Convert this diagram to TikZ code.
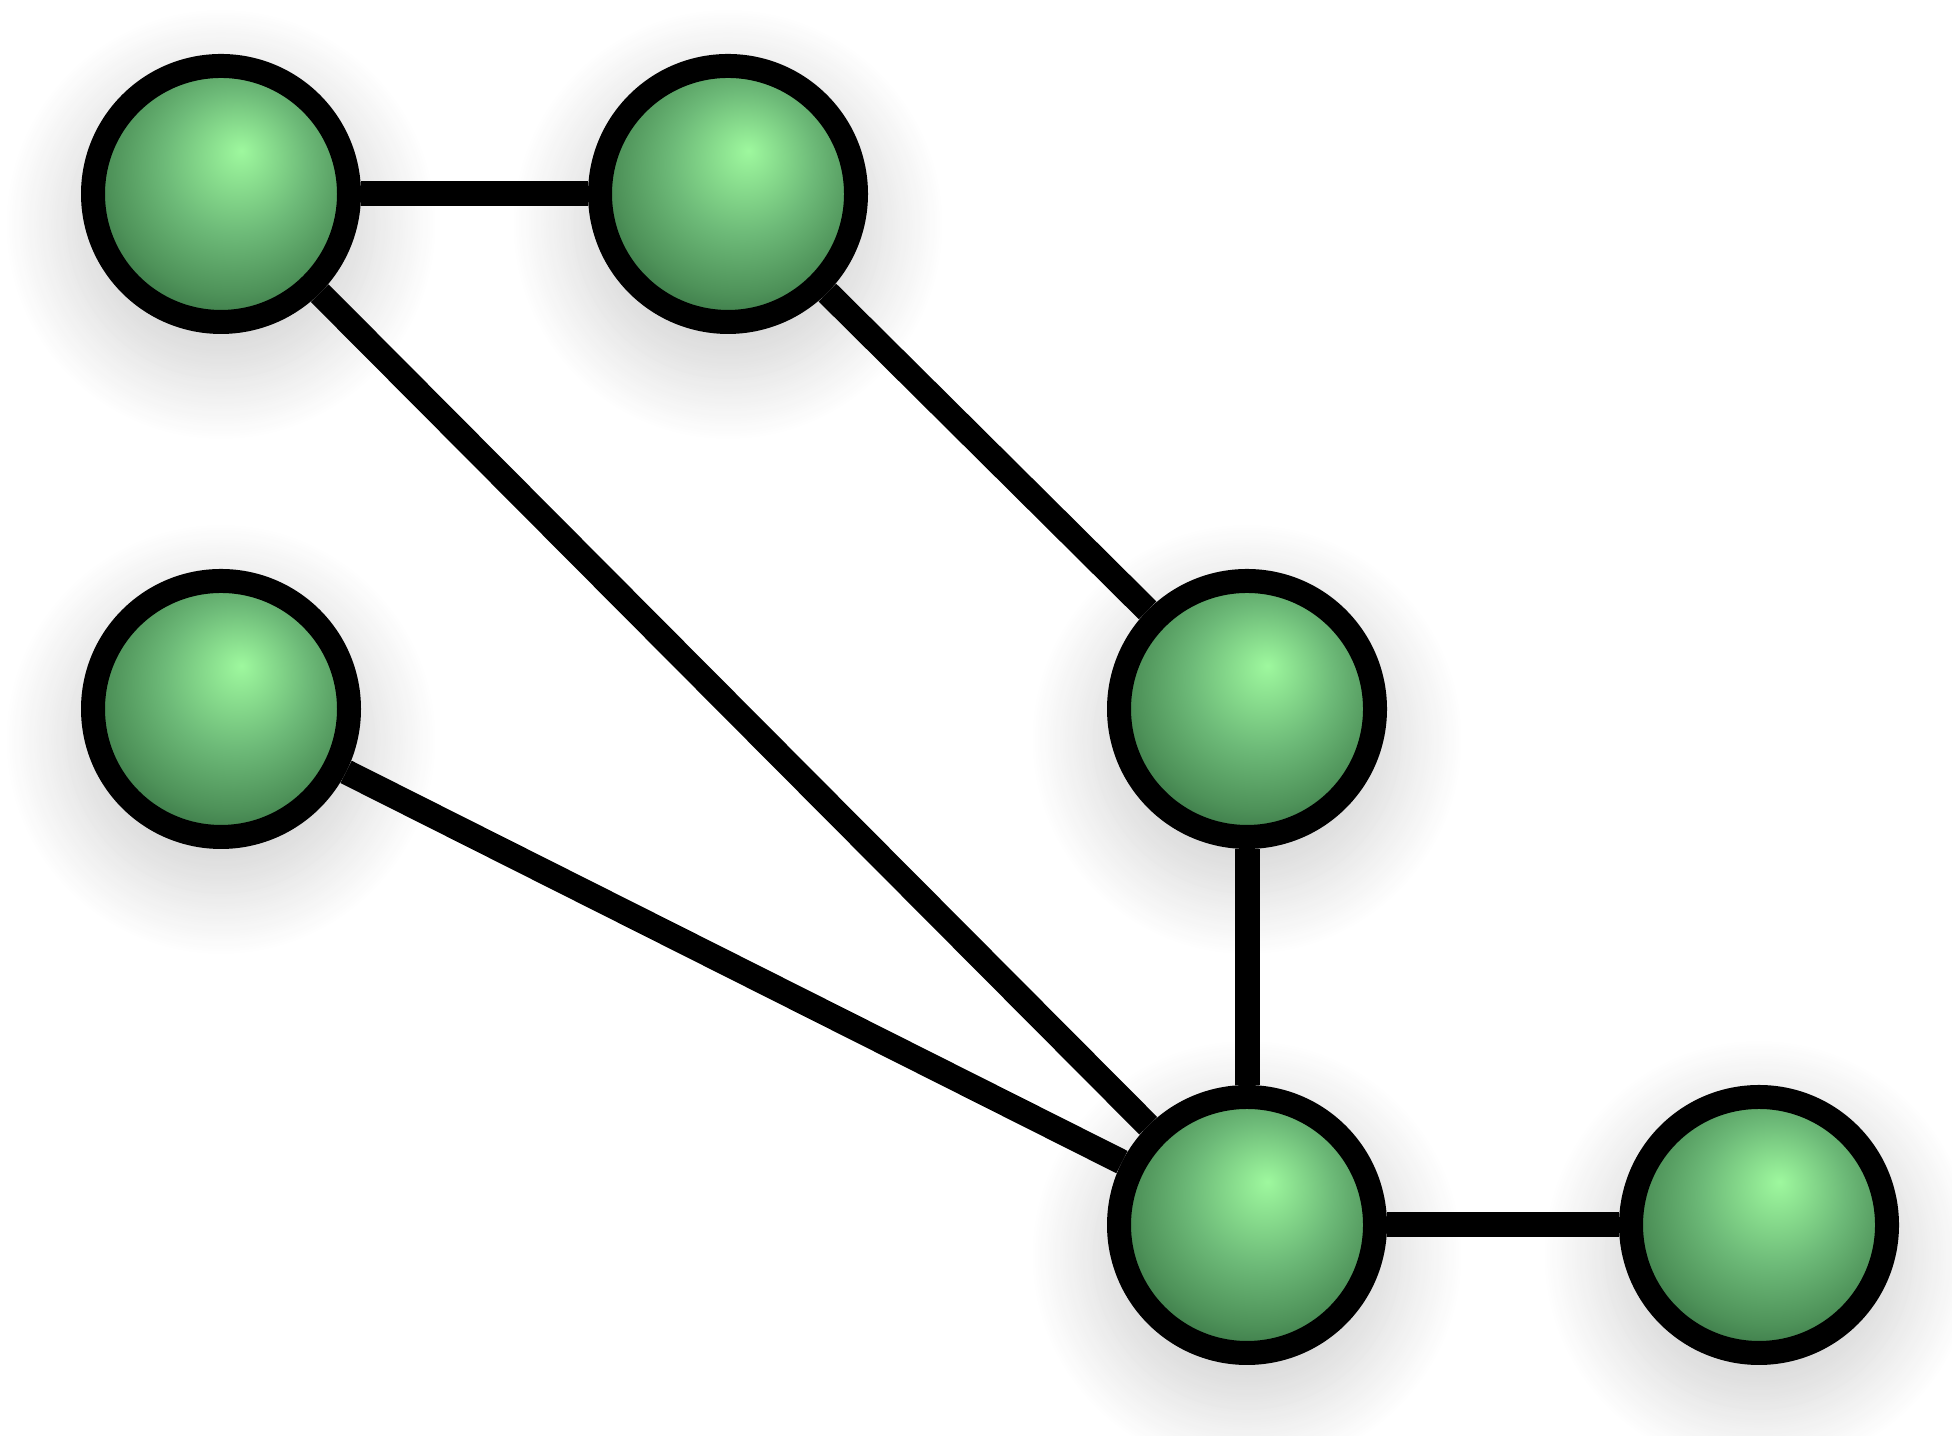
\documentclass[tikz,border=0pt]{standalone}
\usepackage{tikz}
\usetikzlibrary{shadows.blur,backgrounds}
\pgfdeclarelayer{background}
\pgfsetlayers{background,main}
\definecolor{ballhi}{HTML}{9EF89E}
\definecolor{ballmid}{HTML}{6DBA78}
\definecolor{balllow}{HTML}{4E9259}
\definecolor{balldark}{HTML}{2C6339}
\pgfdeclareradialshading{greenball}{\pgfpoint{4bp}{8.5bp}}{color(0bp)=(ballhi); color(14bp)=(ballmid); color(24bp)=(balllow); color(33bp)=(balldark); color(50bp)=(balldark)}
\tikzset{
   netnode/.style={circle, draw=black, line width=0.24cm, inner sep=0pt, minimum size=2.56cm,
                   shading=greenball,
                   blur shadow={shadow xshift=0cm, shadow yshift=-0.25cm, shadow scale=1.22,
                                shadow blur radius=0.5cm, shadow blur steps=25, shadow opacity=16}},
   link/.style={line width=0.25cm, draw=black}
}
\begin{document}
\begin{tikzpicture}
\useasboundingbox (0,0) rectangle (19.52,14.36);
\path (2.21,12.42) node[netnode] (A) {};
\path (7.28,12.42) node[netnode] (B) {};
\path (2.21,7.27) node[netnode] (C) {};
\path (12.47,7.27) node[netnode] (D) {};
\path (12.47,2.11) node[netnode] (E) {};
\path (17.59,2.11) node[netnode] (F) {};
\begin{pgfonlayer}{background}
\foreach \X/\Y in {A/B,A/E,B/D,C/E,D/E,E/F}{
	\draw[link] (\X) -- (\Y);
}
\end{pgfonlayer}
\end{tikzpicture}
\end{document}
